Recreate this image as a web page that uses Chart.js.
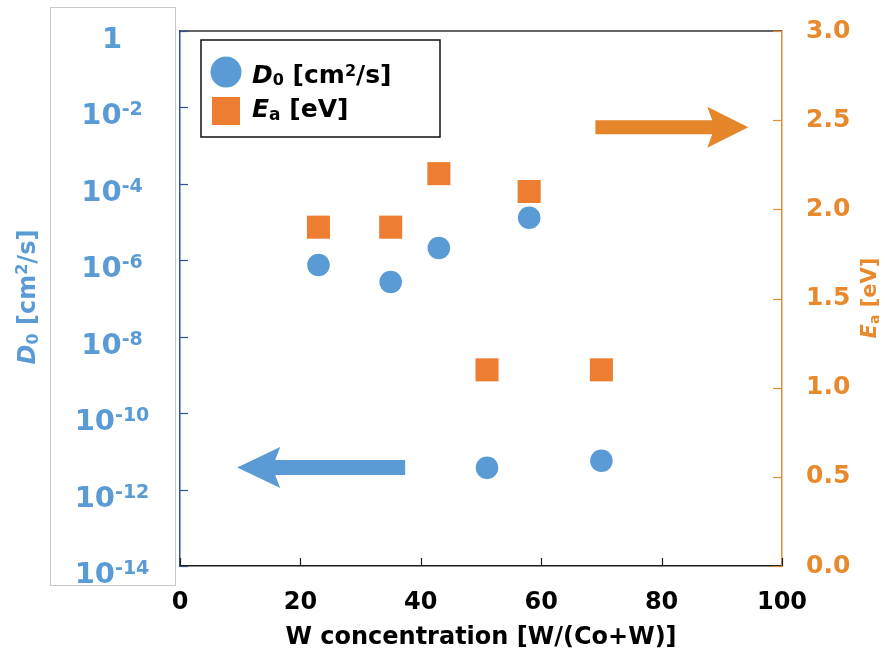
<!DOCTYPE html>
<html>
<head>
<meta charset="utf-8">
<title>D0 and Ea vs W concentration</title>
<script src="https://cdn.jsdelivr.net/npm/chart.js@4.4.1/dist/chart.umd.min.js"></script>
<style>
  html, body { margin: 0; padding: 0; background: #fff; }
  #wrap { width: 885px; height: 655px; }
</style>
</head>
<body>
<div id="wrap"><canvas id="diffusion-chart" width="885" height="655"></canvas></div>
<script>
// W content of each Co-W sample, W/(Co+W) in %
const wConcentration = [23, 35, 43, 51, 58, 70];
// pre-exponential factor D0 [cm2/s]
const d0Values = [7.5e-7, 2.7e-7, 2.1e-6, 3.7e-12, 1.3e-5, 5.7e-12];
// activation energy Ea [eV]
const eaValues = [1.9, 1.9, 2.2, 1.1, 2.1, 1.1];
// decades labelled on the D0 axis
const d0TickExponents = [0, -2, -4, -6, -8, -10, -12, -14];
const eaTicks = [0, 0.5, 1.0, 1.5, 2.0, 2.5, 3.0];
const xTicks = [0, 20, 40, 60, 80, 100];

const BLUE = '#5B9BD5';
const ORANGE = '#ED7D31';
const ORANGE_TEXT = '#E88A2C';
const ORANGE_AXIS = '#E38B36';
const AXIS_BLUE = '#2F528F';
const FAMILY = '"DejaVu Sans", sans-serif';

Chart.defaults.font.family = FAMILY;

function font(size, italic) {
    return (italic ? 'italic ' : '') + 'bold ' + size + 'px ' + FAMILY;
}

// text made of pieces with their own font and vertical shift (sub/superscripts)
function drawRich(ctx, parts, x, y, align) {
    let width = 0;
    parts.forEach(p => { ctx.font = p.font; width += ctx.measureText(p.text).width; });
    let cx = align === 'center' ? x - width / 2 : x;
    ctx.textAlign = 'left';
    ctx.textBaseline = 'alphabetic';
    parts.forEach(p => {
        ctx.font = p.font;
        ctx.fillText(p.text, cx, y + (p.dy || 0));
        cx += ctx.measureText(p.text).width;
    });
}

// horizontal block arrow, tail and tip in pixels
function drawArrow(ctx, tail, tip, shaft, headLen, headHalf, color) {
    const dir = Math.sign(tip.x - tail.x);
    const baseX = tip.x - dir * headLen;
    const neckX = baseX + dir * 5;
    ctx.beginPath();
    ctx.moveTo(tail.x, tail.y - shaft / 2);
    ctx.lineTo(neckX, tail.y - shaft / 2);
    ctx.lineTo(baseX, tip.y - headHalf);
    ctx.lineTo(tip.x, tip.y);
    ctx.lineTo(baseX, tip.y + headHalf);
    ctx.lineTo(neckX, tail.y + shaft / 2);
    ctx.lineTo(tail.x, tail.y + shaft / 2);
    ctx.closePath();
    ctx.fillStyle = color;
    ctx.fill();
}

const decorations = {
    id: 'decorations',
    beforeDraw(chart) {
        const ctx = chart.ctx;
        ctx.save();
        // frame around the D0 tick labels
        ctx.strokeStyle = '#c8c8c8';
        ctx.lineWidth = 1;
        ctx.strokeRect(50.5, 7.5, 125, 578);
        ctx.restore();
    },
    beforeDatasetsDraw(chart) {
        const {ctx, scales: {x, y, y2}} = chart;
        ctx.save();
        // arrows pointing each series to its axis
        drawArrow(ctx,
            {x: x.getPixelForValue(69), y: y2.getPixelForValue(2.46)},
            {x: x.getPixelForValue(94.4), y: y2.getPixelForValue(2.46)},
            14, 41, 20.5, '#E6862A');
        drawArrow(ctx,
            {x: x.getPixelForValue(37.4), y: y.getPixelForValue(Math.pow(10, -11.42))},
            {x: x.getPixelForValue(9.5), y: y.getPixelForValue(Math.pow(10, -11.42))},
            15, 43, 20.5, BLUE);
        ctx.restore();
    },
    afterDraw(chart) {
        const {ctx, chartArea: ca, scales: {x, y, y2}} = chart;
        ctx.save();

        // top edge of the plot
        ctx.strokeStyle = '#333';
        ctx.lineWidth = 1.5;
        ctx.beginPath();
        ctx.moveTo(ca.left, ca.top);
        ctx.lineTo(ca.right, ca.top);
        ctx.stroke();

        // inward tick marks
        ctx.lineWidth = 1.2;
        ctx.strokeStyle = AXIS_BLUE;
        y.ticks.forEach(t => {
            const py = Math.round(y.getPixelForValue(t.value)) + 0.5;
            ctx.beginPath(); ctx.moveTo(ca.left, py); ctx.lineTo(ca.left + 8, py); ctx.stroke();
        });
        ctx.strokeStyle = '#1a1a1a';
        x.ticks.forEach(t => {
            const px = Math.round(x.getPixelForValue(t.value)) + 0.5;
            ctx.beginPath(); ctx.moveTo(px, ca.bottom); ctx.lineTo(px, ca.bottom - 8); ctx.stroke();
        });
        ctx.strokeStyle = ORANGE_AXIS;
        y2.ticks.forEach(t => {
            const py = Math.round(y2.getPixelForValue(t.value)) + 0.5;
            ctx.beginPath(); ctx.moveTo(ca.right, py); ctx.lineTo(ca.right - 9, py); ctx.stroke();
        });

        // D0 decade labels
        ctx.fillStyle = BLUE;
        d0TickExponents.forEach(e => {
            const base = y.getPixelForValue(Math.pow(10, e)) + 17;
            if (e === 0) {
                drawRich(ctx, [{text: '1', font: font(29)}], 112, base, 'center');
            } else {
                drawRich(ctx, [
                    {text: '10', font: font(29)},
                    {text: String(e), font: font(19), dy: -9}
                ], 112, base, 'center');
            }
        });

        // left axis title
        ctx.save();
        ctx.translate(26, 297);
        ctx.rotate(-Math.PI / 2);
        drawRich(ctx, [
            {text: 'D', font: font(24, true)},
            {text: '0', font: font(16), dy: 3},
            {text: ' [cm', font: font(24)},
            {text: '2', font: font(16), dy: -8},
            {text: '/s]', font: font(24)}
        ], 0, 9, 'center');
        ctx.restore();

        // right axis title
        ctx.save();
        ctx.fillStyle = ORANGE_TEXT;
        ctx.translate(868, 298);
        ctx.rotate(-Math.PI / 2);
        drawRich(ctx, [
            {text: 'E', font: font(21, true)},
            {text: 'a', font: font(14), dy: 3},
            {text: ' [eV]', font: font(21)}
        ], 0, 7.5, 'center');
        ctx.restore();

        // legend
        const lx = ca.left + 21, ly = ca.top + 9;
        ctx.strokeStyle = '#111';
        ctx.lineWidth = 1.5;
        ctx.strokeRect(lx, ly, 239, 97);
        const ds = chart.data.datasets;
        ctx.fillStyle = ds[0].backgroundColor;
        ctx.beginPath();
        ctx.arc(lx + 25, ly + 32, 15.5, 0, Math.PI * 2);
        ctx.fill();
        ctx.fillStyle = ds[1].backgroundColor;
        ctx.fillRect(lx + 11, ly + 57, 28, 28);
        ctx.fillStyle = '#000';
        drawRich(ctx, [
            {text: 'D', font: font(25, true)},
            {text: '0', font: font(16), dy: 2},
            {text: ' [cm', font: font(25)},
            {text: '2', font: font(16), dy: -7},
            {text: '/s]', font: font(25)}
        ], lx + 51, ly + 43, 'left');
        drawRich(ctx, [
            {text: 'E', font: font(25, true)},
            {text: 'a', font: font(17), dy: 3},
            {text: ' [eV]', font: font(25)}
        ], lx + 51, ly + 77, 'left');

        ctx.restore();
    }
};

const canvas = document.getElementById('diffusion-chart');
const chart = new Chart(canvas.getContext('2d'), {
    type: 'scatter',
    data: {
        datasets: [
            {
                label: 'D0 [cm2/s]',
                data: wConcentration.map((w, i) => ({x: w, y: d0Values[i]})),
                yAxisID: 'y',
                pointStyle: 'circle',
                pointRadius: 11.3,
                pointHoverRadius: 11.3,
                backgroundColor: BLUE,
                borderWidth: 0
            },
            {
                label: 'Ea [eV]',
                data: wConcentration.map((w, i) => ({x: w, y: eaValues[i]})),
                yAxisID: 'y2',
                pointStyle: 'rect',
                pointRadius: 16.3,
                pointHoverRadius: 16.3,
                backgroundColor: ORANGE,
                borderWidth: 0
            }
        ]
    },
    options: {
        responsive: false,
        animation: false,
        events: [],
        layout: { padding: { top: 31, left: 0, right: 0, bottom: 0 }, autoPadding: false },
        plugins: {
            legend: { display: false },
            tooltip: { enabled: false }
        },
        scales: {
            x: {
                type: 'linear',
                position: 'bottom',
                min: 0,
                max: 100,
                afterBuildTicks: s => { s.ticks = xTicks.map(v => ({value: v})); },
                afterFit: s => { s.height = 89; s.paddingLeft = 0; s.paddingRight = 0; },
                grid: { display: false, drawTicks: false },
                border: { display: true, color: '#1a1a1a', width: 1.5 },
                ticks: { color: '#000', font: { size: 24, weight: 'bold' }, padding: 22, maxRotation: 0 },
                title: {
                    display: true,
                    text: 'W concentration [W/(Co+W)]',
                    color: '#000',
                    font: { size: 24, weight: 'bold' },
                    padding: { top: 0, bottom: 3 }
                }
            },
            y: {
                type: 'logarithmic',
                position: 'left',
                min: 1e-14,
                max: 1,
                afterBuildTicks: s => { s.ticks = d0TickExponents.map(e => ({value: Math.pow(10, e)})); },
                afterFit: s => { s.width = 180; s.paddingTop = 0; s.paddingBottom = 0; },
                ticks: { display: false },
                grid: { display: false, drawTicks: false },
                border: { display: true, color: AXIS_BLUE, width: 1.5 }
            },
            y2: {
                type: 'linear',
                position: 'right',
                min: 0,
                max: 3,
                afterBuildTicks: s => { s.ticks = eaTicks.map(v => ({value: v})); },
                afterFit: s => { s.width = 103; s.paddingTop = 0; s.paddingBottom = 0; },
                grid: { display: false, drawTicks: false },
                border: { display: true, color: ORANGE_AXIS, width: 1.5 },
                ticks: {
                    color: ORANGE_TEXT,
                    font: { size: 25, weight: 'bold' },
                    padding: 24,
                    callback: v => Number(v).toFixed(1)
                }
            }
        }
    },
    plugins: [decorations]
});
</script>
</body>
</html>
